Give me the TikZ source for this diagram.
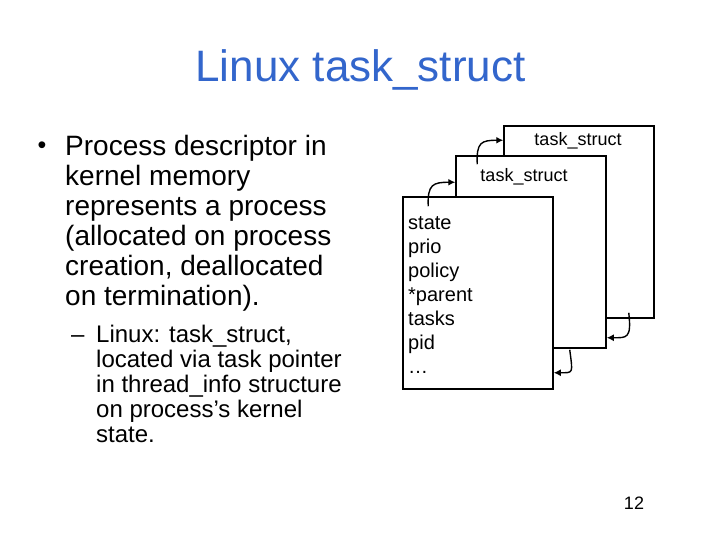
\documentclass[tikz,border=0pt]{standalone}
\usepackage{fontspec}
\setmainfont{Liberation Sans}
\usepackage{xcolor}
\usetikzlibrary{calc,arrows.meta}
\definecolor{titleblue}{RGB}{51,102,204}

\begin{document}
\begin{tikzpicture}[x=1pt,y=-1pt,
    box/.style={draw,line width=1.5pt,fill=white,minimum width=150pt,minimum height=192pt,inner sep=0pt},
    ptr/.style={line width=1.4pt,-{Latex[length=7pt,width=7pt]}},
    txt/.style={inner sep=0pt,align=left}]
  \def\fbig{\fontsize{28}{30}\selectfont}  % main bullet
  \def\fsub{\fontsize{24}{25}\selectfont} % sub bullet
  \def\fbox{\fontsize{20}{24}\selectfont}  % struct fields

  % Page frame
  \useasboundingbox[fill=white] (0,0) rectangle (720,540);

  % Title
  \node[anchor=base,inner sep=0pt,text=titleblue,font=\fontsize{44}{48}\selectfont] (title) at (360.5,82) {Linux task\_struct};

  % Bullet text
  \node[anchor=base,inner sep=0pt,font=\fontsize{25}{25}\selectfont] (dot) at (42,154) {•};
  \node[txt,anchor=north west,font=\fbig] (main) at (65,135.5) {Process descriptor in\\kernel memory\\represents a process\\(allocated on process\\creation, deallocated\\on termination).};
  \node[anchor=base west,inner sep=0pt,font=\fsub] (dash) at (71,342) {–};
  \node[txt,anchor=north west,font=\fsub] (sub) at (96,325) {Linux: task\_struct,\\located via task pointer\\in thread\_info structure\\on process’s kernel\\state.};

  % Stack of task_structs, back to front
  \node[box] (s3) at (579,222) {};
  \node[font=\fontsize{18}{20}\selectfont] (l3) at (578,141) {task\_struct};
  \node[box] (s2) at (531,252) {};
  \node[font=\fontsize{18}{20}\selectfont] (l2) at (524,177) {task\_struct};
  \node[box] (s1) at (478,293) {};
  \node[txt,anchor=north west,font=\fbox] (fields) at (408,216) {state\\prio\\policy\\*parent\\tasks\\pid\\…};

  % Pointer ends
  \coordinate (a1) at ($(s1.north west)+(26,10)$);
  \coordinate (a2) at ($(s2.north west)+(0,27)$);
  \coordinate (b1) at ($(s2.north west)+(22,9)$);
  \coordinate (b2) at ($(s3.north west)+(0,15)$);
  \coordinate (c1) at ($(s3.south east)+(-26,-6)$);
  \coordinate (c2) at ($(s2.south east)+(0,-11)$);
  \coordinate (d1) at ($(s2.south east)+(-37,1)$);
  \coordinate (d2) at ($(s1.south east)+(0,-17)$);

  % Pointers
  \draw[ptr] (a1) .. controls ($(a1)+(-1,-22)$) and ($(a2)+(-22,0)$) .. (a2);
  \draw[ptr] (b1) .. controls ($(b1)+(-1,-22)$) and ($(b2)+(-22,0)$) .. (b2);
  \draw[ptr] (c1) .. controls ($(c1)+(3,26)$) and ($(c2)+(20,0)$) .. (c2);
  \draw[ptr] (d1) .. controls ($(d1)+(3,24)$) and ($(d2)+(20,0)$) .. (d2);

  % Slide number
  \node[font=\fontsize{18}{20}\selectfont] (num) at (634,503) {12};
\end{tikzpicture}
\end{document}
